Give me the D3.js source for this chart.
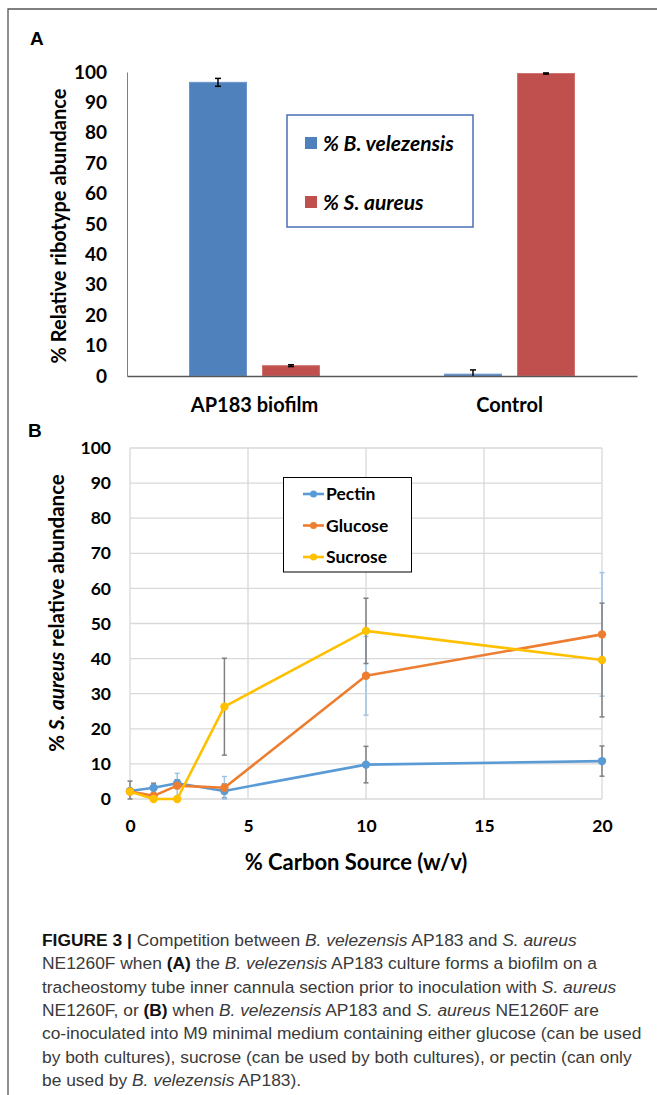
<!DOCTYPE html>
<html>
<head>
<meta charset="utf-8">
<script src="https://cdn.jsdelivr.net/npm/d3@7"></script>
<style>
  html, body { margin: 0; padding: 0; background: #fff; }
  svg { display: block; }
</style>
</head>
<body>
<script>
// ---------- Panel A data ----------
const categoriesA = ["AP183 biofilm", "Control"];
const seriesA = ["% B. velezensis", "% S. aureus"];
const velezensisA = [96.6, 0.6];
const velezensisErrA = [1.3, 1.4];
const aureusA = [3.4, 99.5];
const aureusErrA = [0.3, 0.2];
const yTicksA = [0, 10, 20, 30, 40, 50, 60, 70, 80, 90, 100];

// ---------- Panel B data ----------
const carbon = [0, 1, 2, 4, 10, 20];
const pectin = [2.3, 3.2, 4.5, 2.3, 9.8, 10.8];
const pectinErr = [2.8, 1.3, 1.0, 2.0, 5.2, 4.3];
const glucose = [2.1, 0.9, 3.8, 3.2, 35.1, 46.9];
const glucoseErr = [0.5, 0.8, 3.5, 3.2, 11.2, 17.6];
const sucrose = [2.1, 0, 0, 26.3, 47.9, 39.6];
const sucroseErr = [0.5, 0, 0, 13.8, 9.3, 16.2];
const xTicksB = [0, 5, 10, 15, 20];
const yTicksB = [0, 10, 20, 30, 40, 50, 60, 70, 80, 90, 100];

const chartFont = "Lato, 'Open Sans', sans-serif";
const capFont = "'Liberation Sans', Arial, sans-serif";

const svg = d3.select("body").append("svg").attr("width", 657).attr("height", 1095);

// frame
svg.append("path").attr("d", "M8,1095V9H657").attr("fill", "none")
  .attr("stroke", "#555").attr("stroke-width", 1.3);

// ================= Panel A =================
const gA = svg.append("g");
gA.append("text").attr("x", 30).attr("y", 45).text("A")
  .attr("font-family", capFont).attr("font-weight", "bold").attr("font-size", 19);

const xA = d3.scaleBand().domain(categoriesA).range([127, 637]);
const xInner = d3.scaleBand().domain(seriesA).range([0, xA.bandwidth()])
  .paddingInner(0.219).paddingOuter(0.856);
const yA = d3.scaleLinear().domain([0, 100]).range([376, 72]);
const colorsA = { "% B. velezensis": "#4F81BD", "% S. aureus": "#C0504D" };
const strokeA = { "% B. velezensis": "#6D95CB", "% S. aureus": "#D0726F" };

const barData = [];
categoriesA.forEach((c, i) => {
  barData.push({ cat: c, s: seriesA[0], v: velezensisA[i], e: velezensisErrA[i] });
  barData.push({ cat: c, s: seriesA[1], v: aureusA[i], e: aureusErrA[i] });
});

gA.selectAll("rect.bar").data(barData).join("rect").attr("class", "bar")
  .attr("x", d => xA(d.cat) + xInner(d.s))
  .attr("width", xInner.bandwidth())
  .attr("y", d => yA(d.v))
  .attr("height", d => yA(0) - yA(d.v))
  .attr("fill", d => colorsA[d.s])
  .attr("stroke", d => strokeA[d.s]).attr("stroke-width", 1);

// error bars A
const eA = gA.selectAll("g.err").data(barData).join("g").attr("class", "err");
eA.each(function(d) {
  const g = d3.select(this);
  const cx = xA(d.cat) + xInner(d.s) + xInner.bandwidth() / 2;
  const lo = Math.max(0, d.v - d.e), hi = d.v + d.e;
  g.append("line").attr("x1", cx).attr("x2", cx).attr("y1", yA(lo)).attr("y2", yA(hi))
    .attr("stroke", "#000").attr("stroke-width", 1.5);
  [lo, hi].forEach(v => {
    if (v === 0) return;
    g.append("line").attr("x1", cx - 3).attr("x2", cx + 3).attr("y1", yA(v)).attr("y2", yA(v))
      .attr("stroke", "#000").attr("stroke-width", 1.5);
  });
});

// axes A
const axLA = gA.append("g").attr("transform", "translate(127,0)")
  .call(d3.axisLeft(yA).tickValues(yTicksA).tickSize(0).tickPadding(20).tickSizeOuter(0));
axLA.select(".domain").attr("stroke", "#7f7f7f").attr("stroke-width", 1);
axLA.selectAll("text").attr("font-family", chartFont).attr("font-weight", "bold")
  .attr("font-size", 19).attr("fill", "#000");

const axBA = gA.append("g").attr("transform", "translate(0,376)")
  .call(d3.axisBottom(xA).tickSize(0).tickPadding(22).tickSizeOuter(0));
axBA.select(".domain").attr("stroke", "#595959").attr("stroke-width", 1.5);
axBA.selectAll("text").attr("font-family", chartFont).attr("font-weight", "bold")
  .attr("font-size", 20).attr("fill", "#000");

gA.append("text").attr("transform", "translate(59,226) rotate(-90)")
  .attr("text-anchor", "middle").attr("dy", "0.35em")
  .attr("font-family", chartFont).attr("font-weight", "bold").attr("font-size", 20)
  .text("% Relative ribotype abundance");

// legend A
const legA = gA.append("g");
legA.append("rect").attr("x", 287).attr("y", 115).attr("width", 186).attr("height", 112)
  .attr("fill", "#fff").attr("stroke", "#4A6FB5").attr("stroke-width", 1.5);
seriesA.forEach((s, i) => {
  const cy = 143 + i * 59;
  legA.append("rect").attr("x", 305).attr("y", cy - 6).attr("width", 12).attr("height", 12)
    .attr("fill", colorsA[s]);
  legA.append("text").attr("x", 323).attr("y", cy).attr("dy", "0.36em")
    .attr("font-family", chartFont).attr("font-weight", "bold").attr("font-style", "italic")
    .attr("font-size", 21).text(s);
});

// ================= Panel B =================
const gB = svg.append("g");
gB.append("text").attr("x", 28).attr("y", 437).text("B")
  .attr("font-family", capFont).attr("font-weight", "bold").attr("font-size", 19);

const xB = d3.scaleLinear().domain([0, 20]).range([130, 602]);
const yB = d3.scaleLinear().domain([0, 100]).range([799, 448]);

// gridlines
gB.append("g").selectAll("line").data(yTicksB).join("line")
  .attr("x1", xB(0)).attr("x2", xB(20)).attr("y1", d => yB(d)).attr("y2", d => yB(d))
  .attr("stroke", "#D9D9D9").attr("stroke-width", 1.3);
gB.append("g").selectAll("line").data(xTicksB).join("line")
  .attr("x1", d => xB(d)).attr("x2", d => xB(d)).attr("y1", yB(0)).attr("y2", yB(100))
  .attr("stroke", "#D9D9D9").attr("stroke-width", 1.3);

const axLB = gB.append("g").attr("transform", "translate(130,0)")
  .call(d3.axisLeft(yB).tickValues(yTicksB).tickSize(0).tickPadding(19));
axLB.select(".domain").remove();
axLB.selectAll("text").attr("font-family", chartFont).attr("font-weight", "bold")
  .attr("font-size", 17.5).attr("fill", "#000");

const axBB = gB.append("g").attr("transform", "translate(0,799)")
  .call(d3.axisBottom(xB).tickValues(xTicksB).tickSize(0).tickPadding(21));
axBB.select(".domain").remove();
axBB.selectAll("text").attr("font-family", chartFont).attr("font-weight", "bold")
  .attr("font-size", 17.5).attr("fill", "#000");

const yLabB = gB.append("text").attr("transform", "translate(57,613) rotate(-90)")
  .attr("text-anchor", "middle").attr("dy", "0.35em")
  .attr("font-family", chartFont).attr("font-weight", "bold").attr("font-size", 20.5);
yLabB.append("tspan").text("% ");
yLabB.append("tspan").attr("font-style", "italic").text("S. aureus");
yLabB.append("tspan").text(" relative abundance");

gB.append("text").attr("x", 356).attr("y", 862).attr("dy", "0.36em")
  .attr("text-anchor", "middle")
  .attr("font-family", chartFont).attr("font-weight", "bold").attr("font-size", 22)
  .text("% Carbon Source (w/v)");

const seriesB = [
  { name: "Pectin", vals: pectin, err: pectinErr, color: "#5B9BD5", errColor: "#808080" },
  { name: "Glucose", vals: glucose, err: glucoseErr, color: "#ED7D31", errColor: "#9DC3E6" },
  { name: "Sucrose", vals: sucrose, err: sucroseErr, color: "#FFC000", errColor: "#808080" }
];

// error bars B
seriesB.forEach(s => {
  const g = gB.append("g");
  carbon.forEach((c, i) => {
    if (s.err[i] <= 0) return;
    const lo = Math.max(0, s.vals[i] - s.err[i]), hi = s.vals[i] + s.err[i];
    const cx = xB(c);
    g.append("line").attr("x1", cx).attr("x2", cx).attr("y1", yB(lo)).attr("y2", yB(hi))
      .attr("stroke", s.errColor).attr("stroke-width", 1.5);
    [lo, hi].forEach(v => {
      g.append("line").attr("x1", cx - 2.5).attr("x2", cx + 2.5).attr("y1", yB(v)).attr("y2", yB(v))
        .attr("stroke", s.errColor).attr("stroke-width", 1.5);
    });
  });
});

const lineGen = d3.line().x(d => xB(d[0])).y(d => yB(d[1]));
seriesB.forEach(s => {
  const pts = carbon.map((c, i) => [c, s.vals[i]]);
  gB.append("path").datum(pts).attr("d", lineGen).attr("fill", "none")
    .attr("stroke", s.color).attr("stroke-width", 2.6).attr("stroke-linejoin", "round");
  gB.append("g").selectAll("circle").data(pts).join("circle")
    .attr("cx", d => xB(d[0])).attr("cy", d => yB(d[1])).attr("r", 4.2)
    .attr("fill", s.color);
});

// legend B
const legB = gB.append("g");
legB.append("rect").attr("x", 283.5).attr("y", 477.5).attr("width", 128).attr("height", 94.5)
  .attr("fill", "#fff").attr("stroke", "#000").attr("stroke-width", 1);
seriesB.forEach((s, i) => {
  const cy = 494 + i * 31.5;
  legB.append("line").attr("x1", 303).attr("x2", 324).attr("y1", cy).attr("y2", cy)
    .attr("stroke", s.color).attr("stroke-width", 2.6);
  legB.append("circle").attr("cx", 313.5).attr("cy", cy).attr("r", 3.5).attr("fill", s.color);
  legB.append("text").attr("x", 326).attr("y", cy).attr("dy", "0.36em")
    .attr("font-family", chartFont).attr("font-weight", "bold").attr("font-size", 17.5)
    .text(s.name);
});

// ================= Caption =================
const captionLines = [
  [["b", "FIGURE 3 | "], ["", "Competition between "], ["i", "B. velezensis"], ["", " AP183 and "], ["i", "S. aureus"]],
  [["", "NE1260F when "], ["b", "(A)"], ["", " the "], ["i", "B. velezensis"], ["", " AP183 culture forms a biofilm on a"]],
  [["", "tracheostomy tube inner cannula section prior to inoculation with "], ["i", "S. aureus"]],
  [["", "NE1260F, or "], ["b", "(B)"], ["", " when "], ["i", "B. velezensis"], ["", " AP183 and "], ["i", "S. aureus"], ["", " NE1260F are"]],
  [["", "co-inoculated into M9 minimal medium containing either glucose (can be used"]],
  [["", "by both cultures), sucrose (can be used by both cultures), or pectin (can only"]],
  [["", "be used by "], ["i", "B. velezensis"], ["", " AP183)."]]
];
const cap = svg.append("g");
captionLines.forEach((line, li) => {
  const t = cap.append("text").attr("x", 42).attr("y", 946 + li * 23.3)
    .attr("font-family", capFont).attr("font-size", 17.4).attr("fill", "#3a3a3a");
  line.forEach(([st, txt]) => {
    const ts = t.append("tspan").text(txt);
    if (st === "b") ts.attr("font-weight", "bold").attr("fill", "#111");
    if (st === "i") ts.attr("font-style", "italic");
  });
});
</script>
</body>
</html>
